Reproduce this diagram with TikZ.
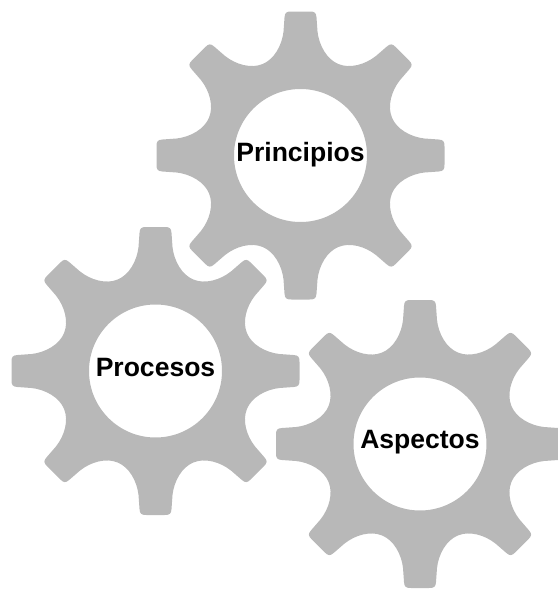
\documentclass[tikz,border=0pt]{standalone}
\usepackage{fontspec}
\setmainfont{Liberation Sans}

\tikzset{gearfill/.style={fill=black!28,even odd rule}}
\tikzset{gearlabel/.style={font=\fontsize{19.9}{22}\selectfont\bfseries,text=black,inner sep=0pt,anchor=base}}

\newcommand{\gearshape}{
	\fill[gearfill] (91.5,-37.9)
		\foreach \a in {0,-45,...,-315} {
			.. controls ([rotate=\a]96,-26.5) and ([rotate=\a]110,-18.5) .. ([rotate=\a]124,-17)
			-- ([rotate=\a]138,-16) .. controls ([rotate=\a]143,-15.7) and ([rotate=\a]144,-14) .. ([rotate=\a]144,-9)
			-- ([rotate=\a]144,9) .. controls ([rotate=\a]144,14) and ([rotate=\a]143,15.7) .. ([rotate=\a]138,16)
			-- ([rotate=\a]124,17) .. controls ([rotate=\a]110,18.5) and ([rotate=\a]96,26.5) .. ([rotate=\a]91.5,37.9)
		} -- cycle
		(0,0) circle (66.5);
}

\begin{document}
\begin{tikzpicture}[x=0.75pt,y=-0.75pt]
	\useasboundingbox (0,0) rectangle (557,589);

	\begin{scope}[shift={(300.5,155.5)}]
	\gearshape
	\node[gearlabel] (principios) at (0,5.5) {Principios};
	\end{scope}

	\begin{scope}[shift={(155.5,371)}]
	\gearshape
	\node[gearlabel] (procesos) at (0,5.7) {Procesos};
	\end{scope}

	\begin{scope}[shift={(420,444)}]
	\gearshape
	\node[gearlabel] (aspectos) at (0,4.5) {Aspectos};
	\end{scope}

\end{tikzpicture}
\end{document}
